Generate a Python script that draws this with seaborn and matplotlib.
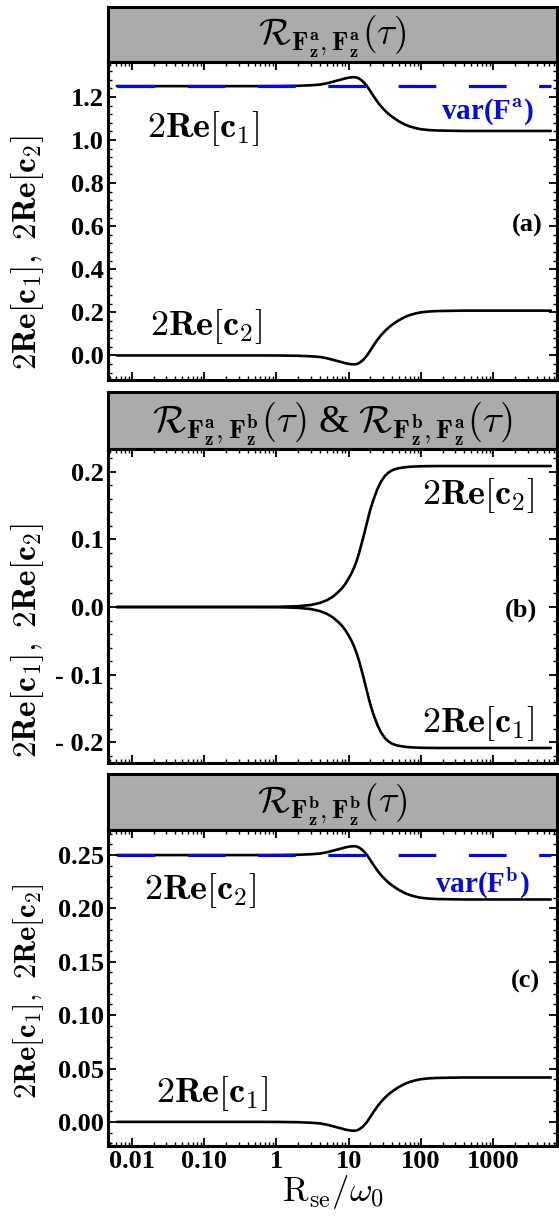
import numpy as np
import pandas as pd
import matplotlib
matplotlib.use('Agg')
import matplotlib.pyplot as plt
import matplotlib.ticker as mticker
import seaborn as sns

# Data (log-spaced R_se/omega_0 samples)
x_vals = [0.0062, 0.01, 0.02, 0.05, 0.1, 0.2, 0.5, 1, 2, 3, 4, 5, 6, 7, 8, 9, 10,
          11, 12, 13, 14, 15, 16, 18, 20, 22, 25, 28, 32, 36, 40, 45, 50, 60, 70,
          85, 100, 130, 170, 250, 400, 700, 1500, 3000, 6300]

# panel (a): R_{Fa,Fa}
a_c1 = [1.25, 1.25, 1.25, 1.25, 1.25, 1.25, 1.25, 1.2502, 1.2515, 1.254, 1.257, 1.263,
        1.270, 1.276, 1.281, 1.286, 1.289, 1.291, 1.2915, 1.290, 1.285, 1.278, 1.270,
        1.250, 1.227, 1.205, 1.178, 1.157, 1.136, 1.120, 1.108, 1.096, 1.086, 1.072,
        1.063, 1.055, 1.050, 1.046, 1.044, 1.043, 1.042, 1.042, 1.042, 1.042, 1.042]
a_c2 = [0.0, 0.0, 0.0, 0.0, 0.0, 0.0, 0.0, -0.0002, -0.0015, -0.004, -0.007, -0.013,
        -0.020, -0.026, -0.031, -0.036, -0.039, -0.041, -0.0415, -0.040, -0.035, -0.028,
        -0.020, 0.000, 0.023, 0.045, 0.072, 0.093, 0.114, 0.130, 0.142, 0.154, 0.164,
        0.178, 0.187, 0.195, 0.200, 0.204, 0.206, 0.207, 0.208, 0.208, 0.208, 0.208, 0.208]
var_a = 1.25

# panel (b): R_{Fa,Fb} & R_{Fb,Fa}
b_c2 = [0.0, 0.0, 0.0, 0.0, 0.0, 0.0, 0.0, 0.0002, 0.0012, 0.0030, 0.0060, 0.0100,
        0.0150, 0.0210, 0.0270, 0.0340, 0.0420, 0.0500, 0.0590, 0.0690, 0.0800, 0.0920,
        0.1030, 0.1250, 0.1440, 0.1580, 0.1740, 0.1850, 0.1940, 0.1990, 0.2020, 0.2040,
        0.2052, 0.2065, 0.2072, 0.2077, 0.2080, 0.2082, 0.2083, 0.2083, 0.2083, 0.2083,
        0.2083, 0.2083, 0.2083]
b_c1 = [-0.0, -0.0, -0.0, -0.0, -0.0, -0.0, -0.0, -0.0002, -0.0012, -0.0030, -0.0060,
        -0.0100, -0.0150, -0.0210, -0.0270, -0.0340, -0.0420, -0.0500, -0.0590, -0.0690,
        -0.0800, -0.0920, -0.1030, -0.1250, -0.1440, -0.1580, -0.1740, -0.1850, -0.1940,
        -0.1990, -0.2020, -0.2040, -0.2052, -0.2065, -0.2072, -0.2077, -0.2080, -0.2082,
        -0.2083, -0.2083, -0.2083, -0.2083, -0.2083, -0.2083, -0.2083]

# panel (c): R_{Fb,Fb}
c_c2 = [0.25, 0.25, 0.25, 0.25, 0.25, 0.25, 0.25, 0.25004, 0.2503, 0.2508, 0.2514,
        0.2526, 0.2540, 0.2552, 0.2562, 0.2572, 0.2578, 0.2582, 0.2583, 0.2580, 0.2570,
        0.2556, 0.2540, 0.2500, 0.2454, 0.2410, 0.2356, 0.2314, 0.2272, 0.2240, 0.2216,
        0.2192, 0.2172, 0.2144, 0.2126, 0.2110, 0.2100, 0.2092, 0.2088, 0.2086, 0.2084,
        0.2084, 0.2084, 0.2084, 0.2084]
c_c1 = [0.0, 0.0, 0.0, 0.0, 0.0, 0.0, 0.0, -0.00004, -0.0003, -0.0008, -0.0014, -0.0026,
        -0.0040, -0.0052, -0.0062, -0.0072, -0.0078, -0.0082, -0.0083, -0.0080, -0.0070,
        -0.0056, -0.0040, 0.0000, 0.0046, 0.0090, 0.0144, 0.0186, 0.0228, 0.0260, 0.0284,
        0.0308, 0.0328, 0.0356, 0.0374, 0.0390, 0.0400, 0.0408, 0.0412, 0.0414, 0.0416,
        0.0416, 0.0416, 0.0416, 0.0416]
var_b = 0.25

x_ticks = [0.01, 0.1, 1, 10, 100, 1000]
x_ticklabels = ['0.01', '0.10', '1', '10', '100', '1000']
a_yticks = [0.0, 0.2, 0.4, 0.6, 0.8, 1.0, 1.2]
a_yticklabels = ['0.0', '0.2', '0.4', '0.6', '0.8', '1.0', '1.2']
b_yticks = [-0.2, -0.1, 0.0, 0.1, 0.2]
b_yticklabels = ['- 0.2', '- 0.1', '0.0', '0.1', '0.2']
c_yticks = [0.0, 0.05, 0.10, 0.15, 0.20, 0.25]
c_yticklabels = ['0.00', '0.05', '0.10', '0.15', '0.20', '0.25']

sns.set_theme(style='ticks')
plt.rcParams['font.family'] = ['Liberation Serif', 'DejaVu Serif']
plt.rcParams['font.weight'] = 'bold'
plt.rcParams['mathtext.fontset'] = 'cm'
for k in ['text.color', 'axes.labelcolor', 'xtick.color', 'ytick.color', 'axes.edgecolor']:
    plt.rcParams[k] = 'black'

lbl1 = r'$\mathbf{2Re}[\mathbf{c_1}]$'
lbl2 = r'$\mathbf{2Re}[\mathbf{c_2}]$'
ylabel_txt = r'$\mathbf{2Re}[\mathbf{c_1}],\ \mathbf{2Re}[\mathbf{c_2}]$'

W, H = 559, 1219
fig = plt.figure(figsize=(W / 100, H / 100), dpi=100)
left, right = 108, 557

def box(top, bottom):
    return [left / W, 1 - bottom / H, (right - left) / W, (bottom - top) / H]

sub = r'\mathbf{F}^{\mathbf{%s}}_{\mathbf{z}}'
titles = [
    r'$\mathcal{R}_{%s,%s}(\tau)$' % (sub % 'a', sub % 'a'),
    r'$\mathcal{R}_{%s,%s}(\tau)$ & $\mathcal{R}_{%s,%s}(\tau)$' % (sub % 'a', sub % 'b', sub % 'b', sub % 'a'),
    r'$\mathcal{R}_{%s,%s}(\tau)$' % (sub % 'b', sub % 'b'),
]
bar_pos = [(7, 62), (392, 449), (774, 830)]
ax_pos = [(62, 380), (449, 763), (830, 1146)]

panels = [
    dict(curves=[a_c1, a_c2], var=var_a, vlabel=r'var(F$^{\mathbf{a}}$)', ylim=(-0.114, 1.362),
         yt=a_yticks, ytl=a_yticklabels, tag='(a)', ylab=(24, 0.40),
         texts=[(lbl1, 0.212, 0.79), (lbl2, 0.22, 0.167)], vpos=(0.846, 0.843), tagpos=(0.933, 0.487)),
    dict(curves=[b_c1, b_c2], var=None, ylim=(-0.2305, 0.2335),
         yt=b_yticks, ytl=b_yticklabels, tag='(b)', ylab=(24, 0.39),
         texts=[(lbl2, 0.824, 0.853), (lbl1, 0.824, 0.127)], tagpos=(0.92, 0.487)),
    dict(curves=[c_c1, c_c2], var=var_b, vlabel=r'var(F$^{\mathbf{b}}$)', ylim=(-0.0226, 0.2735),
         yt=c_yticks, ytl=c_yticklabels, tag='(c)', ylab=(22, 0.49),
         texts=[(lbl2, 0.205, 0.81), (lbl1, 0.232, 0.165)], vpos=(0.833, 0.835), tagpos=(0.929, 0.52)),
]

for i, p in enumerate(panels):
    # gray title bar
    tb = fig.add_axes(box(*bar_pos[i]))
    tb.set_facecolor('#ababab')
    tb.set_xticks([])
    tb.set_yticks([])
    for s in tb.spines.values():
        s.set_linewidth(2.2)
        s.set_color('black')
    tb.text(0.5, 0.45, titles[i], transform=tb.transAxes, ha='center', va='center',
            fontsize=28 if i == 1 else 27, fontweight='normal')

    ax = fig.add_axes(box(*ax_pos[i]))
    df = pd.DataFrame({'x': x_vals, 'c1': p['curves'][0], 'c2': p['curves'][1]})
    sns.lineplot(data=df, x='x', y='c1', ax=ax, color='black', lw=1.9, zorder=2)
    sns.lineplot(data=df, x='x', y='c2', ax=ax, color='black', lw=1.9, zorder=2)
    if p['var'] is not None:
        sns.lineplot(x=x_vals, y=[p['var']] * len(x_vals), ax=ax, color='#0b0bcc', lw=2.3,
                     linestyle=(0, (11.8, 10.2)), zorder=3)
        ax.text(*p['vpos'], p['vlabel'], transform=ax.transAxes, ha='center', va='center',
                fontsize=21, color='#0b0bcc', fontweight='bold')
    for txt, tx, ty in p['texts']:
        ax.text(tx, ty, txt, transform=ax.transAxes, ha='center', va='center', fontsize=26)
    ax.text(*p['tagpos'], p['tag'], transform=ax.transAxes, ha='center', va='center',
            fontsize=19, fontweight='bold')

    ax.set_xscale('log')
    ax.set_xlim(10 ** -2.33, 10 ** 3.885)
    ax.set_ylim(*p['ylim'])
    ax.set_xticks(x_ticks)
    ax.xaxis.set_minor_locator(mticker.LogLocator(base=10, subs=np.arange(2, 10), numticks=30))
    ax.set_yticks(p['yt'])
    ax.set_yticklabels(p['ytl'])
    ax.yaxis.set_minor_locator(mticker.AutoMinorLocator(5))
    ax.tick_params(which='both', direction='in', top=True, right=True, color='black')
    ax.tick_params(which='major', length=6, width=1.3, labelsize=19, pad=3)
    ax.tick_params(which='minor', length=3, width=1.0)
    for s in ax.spines.values():
        s.set_linewidth(2.2)
        s.set_color('black')
    ax.set_ylabel(ylabel_txt, fontsize=p['ylab'][0])
    ax.yaxis.set_label_coords(-0.138, p['ylab'][1])
    if i == 2:
        ax.set_xticklabels(x_ticklabels)
        ax.set_xlabel(r'$\mathrm{R_{se}}/\omega_0$', fontsize=25, labelpad=0)
    else:
        ax.set_xticklabels([])
        ax.set_xlabel('')
    ax.grid(False)

fig.savefig('out.png', dpi=100)
